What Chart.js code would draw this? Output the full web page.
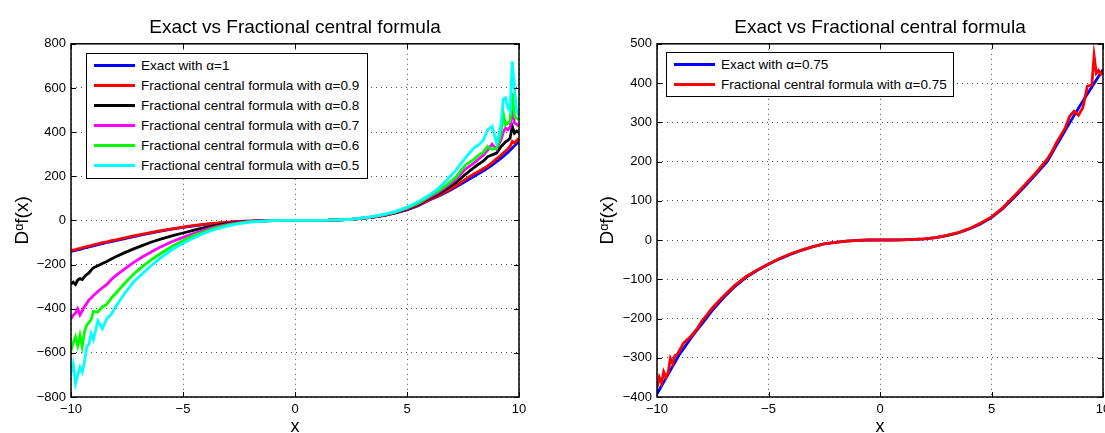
<!DOCTYPE html>
<html>
<head>
<meta charset="utf-8">
<script src="https://cdn.jsdelivr.net/npm/chart.js@4.4.0/dist/chart.umd.min.js"></script>
<style>
html,body{margin:0;padding:0;background:#fff;overflow:hidden;width:1105px;height:433px;position:relative;}
.wrap{position:absolute;top:0;height:433px;}
#w1{left:0;width:550px;}
#w2{left:560px;width:560px;}
canvas{display:block;}
.legend{position:absolute;z-index:2;box-sizing:border-box;border:1.5px solid #000;background:#fff;
  font:13.5px "Liberation Sans",Arial,Helvetica,sans-serif;color:#000;padding-top:1px;}
.row{height:20px;display:flex;align-items:center;white-space:nowrap;}
.sw{display:inline-block;width:41px;height:0;border-top:3px solid;margin-left:7px;margin-right:6px;}
#leg1{left:86px;top:53px;width:282px;height:126px;}
#leg2{left:666px;top:52px;width:288px;height:45px;}
</style>
</head>
<body>
<div class="wrap" id="w1"><canvas id="c1" width="550" height="433"></canvas></div>
<div class="wrap" id="w2"><canvas id="c2" width="560" height="433"></canvas></div>
<div class="legend" id="leg1"></div>
<div class="legend" id="leg2"></div>
<script>
// ---------- data ----------
const titleText = 'Exact vs Fractional central formula';
const xLabel = 'x';
const yLabel = 'D\u1D45f(x)';
const xTicks = [-10, -5, 0, 5, 10];
const yTicksLeft = [-800, -600, -400, -200, 0, 200, 400, 600, 800];
const yTicksRight = [-400, -300, -200, -100, 0, 100, 200, 300, 400, 500];

const xLeft = [-10,-9.9,-9.8,-9.7,-9.6,-9.5,-9.4,-9.3,-9.2,-9.1,-9,
  -8.8,-8.6,-8.4,-8.2,-8,
  -7.6,-7.2,-6.8,-6.4,
  -6,-5.5,-5,-4.5,-4,-3.5,-3,-2.5,-2,-1.5,-1,-0.5,0,0.5,1,1.5,2,2.5,3,3.5,4,4.5,5,5.5,6,
  6.4,6.8,7.2,7.6,
  8,8.2,8.4,8.6,8.8,9,
  9.1,9.2,9.3,9.4,9.5,9.6,9.7,9.8,9.9,10];

const exactAlpha1 = [-141,-138,-136,-133,-131,-128,-125,-123,-120,-118,-115,
  -110,-105,-100,-96,-92,
  -83,-74,-65,-57,
  -49,-40,-32,-25,-18,-13,-8.5,-5,-3,-1.5,-0.5,0,0,0,0.5,1,3,5,9,15,23,34,48,67,92,
  110,130,152,176,
  200,212,224,237,251,266,
  274,282,290,299,308,318,328,338,348,358];

const frac09 = [-137,-134,-132,-129,-127,-124,-121,-119,-116,-114,-111,
  -106,-101,-97,-92,-88,
  -79,-70,-62,-54,
  -46,-38,-30,-23,-17,-12,-8,-5,-3,-1,-0.5,0,0,0,0.5,1,3,5,9,15,23,35,50,69,94,
  113,134,158,186,
  212,222,234,246,262,280,
  287,296,305,314,324,335,358,350,362,372];

const frac08 = [-288,-280,-290,-270,-264,-268,-255,-245,-238,-225,-215,
  -205,-195,-186,-175,-165,
  -146,-129,-113,-98,
  -85,-70,-57,-44,-32,-22,-14,-8,-4,-2,-0.5,0,0,0,0.5,1,3,5,10,16,24,36,52,72,100,
  120,145,172,208,
  240,255,268,288,297,305,
  320,335,345,356,362,372,425,395,405,398];

const frac07 = [-445,-430,-420,-400,-428,-410,-390,-377,-360,-352,-340,
  -322,-305,-290,-268,-250,
  -220,-190,-165,-142,
  -120,-97,-77,-58,-42,-28,-18,-10,-5,-2,-0.5,0,0,0,0.5,1,3,5,10,16,25,37,54,76,105,
  127,155,187,232,
  260,278,295,318,345,322,
  345,365,400,418,410,422,505,441,435,426];

const frac06 = [-590,-555,-528,-568,-520,-572,-505,-475,-462,-450,-412,
  -415,-392,-380,-352,-330,
  -285,-243,-208,-177,
  -150,-118,-91,-68,-49,-33,-21,-12,-6,-3,-1,0,0,0,0.5,1,3,5,10,17,26,38,56,79,110,
  134,163,198,250,
  278,296,308,335,322,327,
  358,395,485,433,440,450,577,471,462,456];

const frac05 = [-690,-650,-740,-700,-665,-688,-640,-573,-560,-512,-540,
  -455,-490,-445,-425,-390,
  -330,-278,-240,-203,
  -170,-133,-104,-78,-56,-39,-25,-15,-8,-4,-1,0,0,0,0.5,1,3,5,11,18,28,41,60,85,115,
  145,185,230,282,
  330,342,362,410,426,350,
  385,440,550,555,510,494,721,592,494,475];

const xRight = [-10,-9.9,-9.8,-9.7,-9.6,-9.5,-9.4,-9.3,-9.2,-9.1,-9,
  -8.8,-8.6,-8.4,-8.2,-8,
  -7.5,-7,-6.5,-6,-5.5,-5,-4.5,-4,-3.5,-3,-2.5,-2,-1.5,-1,-0.5,0,0.5,1,1.5,2,2.5,3,3.5,4,4.5,5,5.5,6,6.5,7,
  7.5,7.7,7.9,8.1,8.3,8.5,8.7,8.9,9.1,9.3,
  9.5,9.6,9.7,9.8,9.9,10];

const exactAlpha075 = [-392,-382,-372,-362,-352,-342,-332,-322,-312,-302,-292,
  -276,-260,-244,-229,-215,
  -178,-146,-118,-95,-77,-62,-48,-36,-26,-17,-10,-6,-3,-1,0,0,0,0.5,1.5,3,6,11,18,28,41,57,80,108,137,168,
  200,220,240,259,279,298,317,336,354,372,
  390,399,408,417,426,434];

const frac075 = [-376,-350,-365,-336,-350,-338,-302,-315,-295,-292,-282,
  -262,-252,-240,-226,-208,
  -172,-142,-115,-93,-76,-61,-47,-35,-25,-17,-10,-6,-3,-1,0,0,0,0.5,1.5,3,6,12,19,29,43,59,82,111,141,172,
  206,224,247,266,285,315,328,318,338,392,
  395,470,425,432,422,428];

const leftSeries = [
  {label: 'Exact with \u03B1=1', color: '#0000ff', values: exactAlpha1},
  {label: 'Fractional central formula with \u03B1=0.9', color: '#ff0000', values: frac09},
  {label: 'Fractional central formula with \u03B1=0.8', color: '#000000', values: frac08},
  {label: 'Fractional central formula with \u03B1=0.7', color: '#ff00ff', values: frac07},
  {label: 'Fractional central formula with \u03B1=0.6', color: '#00ff00', values: frac06},
  {label: 'Fractional central formula with \u03B1=0.5', color: '#00ffff', values: frac05}
];
const rightSeries = [
  {label: 'Exact with \u03B1=0.75', color: '#0000ff', values: exactAlpha075},
  {label: 'Fractional central formula with \u03B1=0.75', color: '#ff0000', values: frac075}
];

// ---------- rendering ----------
const FONT = '"Liberation Sans", Arial, Helvetica, sans-serif';
Chart.defaults.font.family = FONT;
Chart.defaults.color = '#000';

const fmt = v => (v < 0 ? '\u2212' + Math.abs(v) : String(v));

const boxPlugin = {
  id: 'matlabBox',
  afterDatasetsDraw(chart) {
    const {ctx, chartArea: a, scales: {x, y}} = chart;
    ctx.save();
    ctx.strokeStyle = '#000';
    ctx.lineWidth = 1;
    const tl = 5;
    ctx.beginPath();
    x.ticks.forEach(t => {
      const p = Math.round(x.getPixelForValue(t.value)) + 0.5;
      ctx.moveTo(p, a.bottom); ctx.lineTo(p, a.bottom - tl);
      ctx.moveTo(p, a.top); ctx.lineTo(p, a.top + tl);
    });
    y.ticks.forEach(t => {
      const p = Math.round(y.getPixelForValue(t.value)) + 0.5;
      ctx.moveTo(a.left, p); ctx.lineTo(a.left + tl, p);
      ctx.moveTo(a.right, p); ctx.lineTo(a.right - tl, p);
    });
    ctx.stroke();
    ctx.lineWidth = 1.5;
    ctx.strokeRect(a.left, a.top, a.right - a.left, a.bottom - a.top);
    ctx.restore();
  }
};

function makeChart(id, xs, sets, yTicks, padding, yWidth) {
  return new Chart(document.getElementById(id), {
    type: 'line',
    data: {
      datasets: sets.map((s, i) => ({
        label: s.label,
        data: xs.map((x, j) => ({x: x, y: s.values[j]})),
        borderColor: s.color,
        backgroundColor: s.color,
        borderWidth: 2.8,
        pointRadius: 0,
        tension: 0,
        fill: false,
        order: sets.length - i
      }))
    },
    options: {
      responsive: false,
      animation: false,
      layout: {padding: padding},
      plugins: {
        legend: {display: false},
        tooltip: {enabled: false},
        title: {
          display: true, text: titleText, fullSize: false, color: '#000',
          font: {size: 19, weight: 'normal'}, padding: {top: 16, bottom: 5}
        }
      },
      scales: {
        x: {
          type: 'linear', min: xTicks[0], max: xTicks[xTicks.length - 1],
          afterBuildTicks: s => { s.ticks = xTicks.map(v => ({value: v})); },
          afterFit: s => { s.height = 36; },
          ticks: {font: {size: 13}, padding: 5, maxRotation: 0, autoSkip: false, callback: fmt, color: '#000'},
          grid: {color: 'rgba(0,0,0,0.7)', lineWidth: 1, drawTicks: false},
          border: {display: false, dash: [1, 4]},
          title: {display: true, text: xLabel, color: '#000', font: {size: 18}, padding: {top: 0, bottom: -5}}
        },
        y: {
          type: 'linear', min: yTicks[0], max: yTicks[yTicks.length - 1],
          afterBuildTicks: s => { s.ticks = yTicks.map(v => ({value: v})); },
          afterFit: s => { s.width = yWidth; },
          ticks: {font: {size: 13}, padding: 5, autoSkip: false, callback: fmt, color: '#000'},
          grid: {color: 'rgba(0,0,0,0.7)', lineWidth: 1, drawTicks: false},
          border: {display: false, dash: [1, 4]},
          title: {display: true, text: yLabel, color: '#000', font: {size: 19}, padding: {top: 11, bottom: 0}}
        }
      }
    },
    plugins: [boxPlugin]
  });
}

function buildLegend(divId, sets) {
  const d = document.getElementById(divId);
  sets.forEach(s => {
    const r = document.createElement('div'); r.className = 'row';
    const sw = document.createElement('span'); sw.className = 'sw'; sw.style.borderTopColor = s.color;
    const t = document.createElement('span'); t.textContent = s.label;
    r.appendChild(sw); r.appendChild(t); d.appendChild(r);
  });
}

makeChart('c1', xLeft, leftSeries, yTicksLeft, {left: 0, right: 31, top: 0, bottom: 0}, 71);
makeChart('c2', xRight, rightSeries, yTicksRight, {left: 25, right: 17, top: 0, bottom: 0}, 72);
buildLegend('leg1', leftSeries);
buildLegend('leg2', rightSeries);
</script>
</body>
</html>
